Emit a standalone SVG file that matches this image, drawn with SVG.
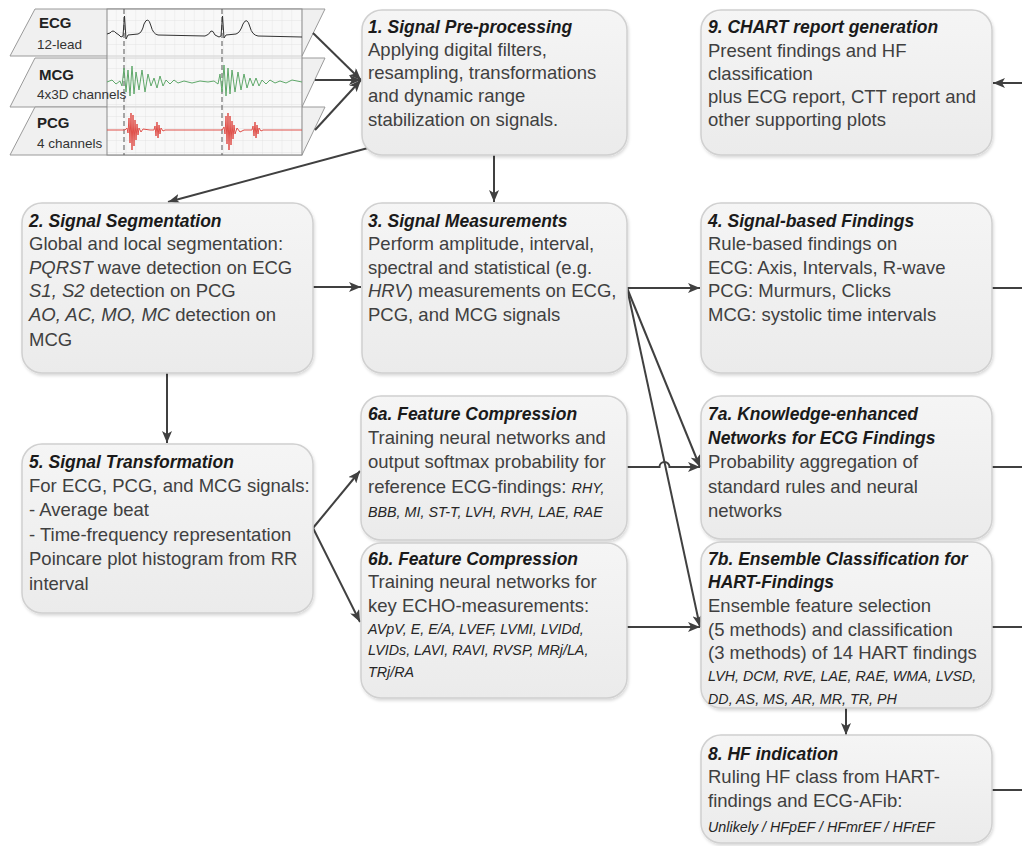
<svg xmlns="http://www.w3.org/2000/svg" width="1022" height="846" viewBox="0 0 1022 846">
<defs>
<linearGradient id="bg" x1="0" y1="0" x2="0" y2="1"><stop offset="0" stop-color="#f5f5f5"/><stop offset="1" stop-color="#ebebeb"/></linearGradient>
<filter id="sh" x="-5%" y="-5%" width="110%" height="115%"><feDropShadow dx="1" dy="2" stdDeviation="1.5" flood-color="#000" flood-opacity="0.15"/></filter>
<marker id="ah" viewBox="0 0 12 10" refX="12" refY="5" markerWidth="12" markerHeight="10" markerUnits="userSpaceOnUse" orient="auto"><path d="M0,0 L12,5 L0,10 L3,5 z" fill="#404040"/></marker>
<pattern id="grid" x="107" y="9" width="9.75" height="12" patternUnits="userSpaceOnUse"><path d="M9.75,0 V12 M0,12 H9.75" fill="none" stroke="#dedede" stroke-width="0.7"/></pattern>
</defs>
<style>
.box{fill:url(#bg);stroke:#d0d0d0;stroke-width:1.5;filter:url(#sh)}
text{font-family:"Liberation Sans",Arial,sans-serif}
.t{font-size:17.5px;font-weight:bold;font-style:italic;fill:#1a1a1a}
.b{font-size:18.5px;fill:#404040}
.s{font-size:14.3px;font-style:italic;fill:#262626}
.i{font-style:italic}
.c{fill:none;stroke:#404040;stroke-width:2}
.pan{fill:#f0f0f0;stroke:#9a9a9a;stroke-width:1}
.pl{font-size:15px;font-weight:bold;fill:#222}
.ps{font-size:13.5px;fill:#333}
</style>
<rect width="1022" height="846" fill="#ffffff"/>

<g id="signals">
<polygon class="pan" points="35,9 325,9 302,56 10,56"/>
<polygon class="pan" points="35,58 325,58 302,107 10,107"/>
<polygon class="pan" points="35,107 325,107 302,155 10,155"/>
<rect x="107" y="9" width="195" height="146" fill="#ffffff" fill-opacity="0.55"/>
<rect x="107" y="9" width="195" height="146" fill="url(#grid)"/>
<rect x="107" y="9" width="195" height="146" fill="none" stroke="#8a8a8a" stroke-width="1"/>
<line x1="124" y1="9" x2="124" y2="155" stroke="#555" stroke-width="1" stroke-dasharray="5,3"/>
<line x1="222" y1="9" x2="222" y2="155" stroke="#555" stroke-width="1" stroke-dasharray="5,3"/>
<path d="M107,34 L110,33 Q113,29 116,33 L119,35 L121,37 L123,36 L124.5,16 L126,39 L128,35 L138,34 Q142,33 144,24 Q148,15 151,26 Q153,34 158,35 L205,36 Q209,35 211,31 Q213,30 215,35 L219,37 L221,36 L222.5,16 L224,38 L226,35 L236,34 Q240,33 243,24 Q247,16 250,27 Q252,35 258,36 L302,37" fill="none" stroke="#333" stroke-width="1"/>
<path d="M107,82 L112,80 L116,84 L120,81 L122,86 L124,68 L126,92 L128,70 L130,96 L132,66 L134,94 L136,72 L139,90 L142,70 L145,92 L148,74 L151,86 L154,78 L157,88 L160,76 L163,86 L166,80 L170,84 L174,80 L178,83 L184,81 L192,83 L200,81 L208,82 L214,81 L218,84 L220,74 L222,92 L224,65 L226,96 L228,68 L230,94 L232,70 L235,92 L238,72 L241,90 L244,74 L247,88 L250,78 L253,86 L256,78 L259,86 L262,80 L266,84 L270,80 L275,83 L280,81 L286,83 L292,80 L302,82" fill="none" stroke="#5fa86a" stroke-width="1"/>
<path d="M107,130 L125,130 L127,128 L128,133 L129,118 L130,143 L131,113 L132,150 L133,115 L134,146 L135,120 L136,140 L137,124 L138,135 L139,128 L141,132 L143,129 L150,130 L154,130 L155,126 L156,136 L157,122 L158,138 L159,125 L160,134 L161,128 L163,131 L165,130 L222,130 L224,127 L225,134 L226,116 L227,144 L228,113 L229,150 L230,116 L231,145 L232,121 L233,139 L234,125 L235,134 L237,128 L240,132 L244,130 L252,130 L253,126 L254,136 L255,122 L256,138 L257,125 L258,134 L259,128 L261,131 L263,130 L302,130" fill="none" stroke="#e0504a" stroke-width="1"/>
<text class="pl" x="39" y="28">ECG</text>
<text class="ps" x="37" y="49">12-lead</text>
<text class="pl" x="39" y="80">MCG</text>
<text class="ps" x="37" y="99">4x3D channels</text>
<text class="pl" x="37" y="128">PCG</text>
<text class="ps" x="37" y="148">4 channels</text>
</g>

<g id="connectors">
<line class="c" x1="313" y1="33" x2="361" y2="80" marker-end="url(#ah)"/>
<line class="c" x1="315" y1="80" x2="361" y2="80" marker-end="url(#ah)"/>
<line class="c" x1="315" y1="130" x2="361" y2="80" marker-end="url(#ah)"/>
<line class="c" x1="368" y1="148" x2="168" y2="202" marker-end="url(#ah)"/>
<line class="c" x1="494" y1="155" x2="494" y2="202" marker-end="url(#ah)"/>
<line class="c" x1="313" y1="287" x2="361" y2="287" marker-end="url(#ah)"/>
<line class="c" x1="627" y1="288" x2="700" y2="288" marker-end="url(#ah)"/>
<line class="c" x1="992" y1="288" x2="1022" y2="288"/>
<line class="c" x1="167" y1="373" x2="167" y2="443" marker-end="url(#ah)"/>
<line class="c" x1="313" y1="528" x2="360" y2="471" marker-end="url(#ah)"/>
<line class="c" x1="313" y1="528" x2="360" y2="622" marker-end="url(#ah)"/>
<path class="c" d="M627,467 L659.5,467 A5,5 0 0 1 669.5,467 L700,467" marker-end="url(#ah)"/>
<line class="c" x1="627" y1="288" x2="700" y2="467" marker-end="url(#ah)"/>
<line class="c" x1="627" y1="288" x2="700" y2="627" marker-end="url(#ah)"/>
<line class="c" x1="627" y1="627" x2="700" y2="627" marker-end="url(#ah)"/>
<line class="c" x1="992" y1="467" x2="1022" y2="467"/>
<line class="c" x1="992" y1="627" x2="1022" y2="627"/>
<line class="c" x1="846" y1="708" x2="846" y2="735" marker-end="url(#ah)"/>
<line class="c" x1="992" y1="790" x2="1022" y2="790"/>
<line class="c" x1="1022" y1="83" x2="993" y2="83" marker-end="url(#ah)"/>
</g>

<g id="node1">
<rect class="box" x="362" y="10" width="265" height="145" rx="20"/>
<text class="t" x="368" y="33">1. Signal Pre-processing</text>
<text class="b" x="368" y="56">Applying digital filters,</text>
<text class="b" x="368" y="79">resampling, transformations</text>
<text class="b" x="368" y="102">and dynamic range</text>
<text class="b" x="368" y="126">stabilization on signals.</text>
</g>

<g id="node9">
<rect class="box" x="701" y="10" width="291" height="145" rx="20"/>
<text class="t" x="708" y="33">9. CHART report generation</text>
<text class="b" x="708" y="57">Present findings and HF</text>
<text class="b" x="708" y="80">classification</text>
<text class="b" x="708" y="103">plus ECG report, CTT report and</text>
<text class="b" x="708" y="126">other supporting plots</text>
</g>

<g id="node2">
<rect class="box" x="22" y="203" width="291" height="170" rx="20"/>
<text class="t" x="29" y="227">2. Signal Segmentation</text>
<text class="b" x="29" y="250">Global and local segmentation:</text>
<text class="b" x="29" y="274"><tspan class="i">PQRST</tspan> wave detection on ECG</text>
<text class="b" x="29" y="297"><tspan class="i">S1, S2</tspan> detection on PCG</text>
<text class="b" x="29" y="321"><tspan class="i">AO, AC, MO, MC</tspan> detection on</text>
<text class="b" x="29" y="346">MCG</text>
</g>

<g id="node3">
<rect class="box" x="362" y="203" width="265" height="170" rx="20"/>
<text class="t" x="368" y="227">3. Signal Measurements</text>
<text class="b" x="368" y="250">Perform amplitude, interval,</text>
<text class="b" x="368" y="274">spectral and statistical (e.g.</text>
<text class="b" x="368" y="297"><tspan class="i">HRV</tspan>) measurements on ECG,</text>
<text class="b" x="368" y="321">PCG, and MCG signals</text>
</g>

<g id="node4">
<rect class="box" x="701" y="203" width="291" height="170" rx="20"/>
<text class="t" x="708" y="227">4. Signal-based Findings</text>
<text class="b" x="708" y="250">Rule-based findings on</text>
<text class="b" x="708" y="274">ECG: Axis, Intervals, R-wave</text>
<text class="b" x="708" y="297">PCG: Murmurs, Clicks</text>
<text class="b" x="708" y="321">MCG: systolic time intervals</text>
</g>

<g id="node5">
<rect class="box" x="22" y="444" width="291" height="169" rx="20"/>
<text class="t" x="29" y="468">5. Signal Transformation</text>
<text class="b" x="29" y="492">For ECG, PCG, and MCG signals:</text>
<text class="b" x="29" y="516">- Average beat</text>
<text class="b" x="29" y="541">- Time-frequency representation</text>
<text class="b" x="29" y="565">Poincare plot histogram from RR</text>
<text class="b" x="29" y="590">interval</text>
</g>

<g id="node6a">
<rect class="box" x="361" y="396" width="266" height="144" rx="20"/>
<text class="t" x="368" y="420">6a. Feature Compression</text>
<text class="b" x="368" y="444">Training neural networks and</text>
<text class="b" x="368" y="468">output softmax probability for</text>
<text class="b" x="368" y="493">reference ECG-findings: <tspan class="s">RHY,</tspan></text>
<text class="s" x="368" y="517">BBB, MI, ST-T, LVH, RVH, LAE, RAE</text>
</g>

<g id="node6b">
<rect class="box" x="361" y="543" width="266" height="155" rx="20"/>
<text class="t" x="368" y="565">6b. Feature Compression</text>
<text class="b" x="368" y="588">Training neural networks for</text>
<text class="b" x="368" y="612">key ECHO-measurements:</text>
<text class="s" x="368" y="634">AVpV, E, E/A, LVEF, LVMI, LVIDd,</text>
<text class="s" x="368" y="655">LVIDs, LAVI, RAVI, RVSP, MRj/LA,</text>
<text class="s" x="368" y="677">TRj/RA</text>
</g>

<g id="node7a">
<rect class="box" x="701" y="396" width="291" height="143" rx="20"/>
<text class="t" x="708" y="420">7a. Knowledge-enhanced</text>
<text class="t" x="708" y="444">Networks for ECG Findings</text>
<text class="b" x="708" y="468">Probability aggregation of</text>
<text class="b" x="708" y="493">standard rules and neural</text>
<text class="b" x="708" y="517">networks</text>
</g>

<g id="node7b">
<rect class="box" x="701" y="542" width="291" height="166" rx="20"/>
<text class="t" x="708" y="565">7b. Ensemble Classification for</text>
<text class="t" x="708" y="588">HART-Findings</text>
<text class="b" x="708" y="612">Ensemble feature selection</text>
<text class="b" x="708" y="636">(5 methods) and classification</text>
<text class="b" x="708" y="659">(3 methods) of 14 HART findings</text>
<text class="s" x="708" y="681">LVH, DCM, RVE, LAE, RAE, WMA, LVSD,</text>
<text class="s" x="708" y="704">DD, AS, MS, AR, MR, TR, PH</text>
</g>

<g id="node8">
<rect class="box" x="701" y="735" width="291" height="108" rx="20"/>
<text class="t" x="708" y="760">8. HF indication</text>
<text class="b" x="708" y="783">Ruling HF class from HART-</text>
<text class="b" x="708" y="807">findings and ECG-AFib:</text>
<text class="s" x="708" y="832">Unlikely / HFpEF / HFmrEF / HFrEF</text>
</g>
</svg>
